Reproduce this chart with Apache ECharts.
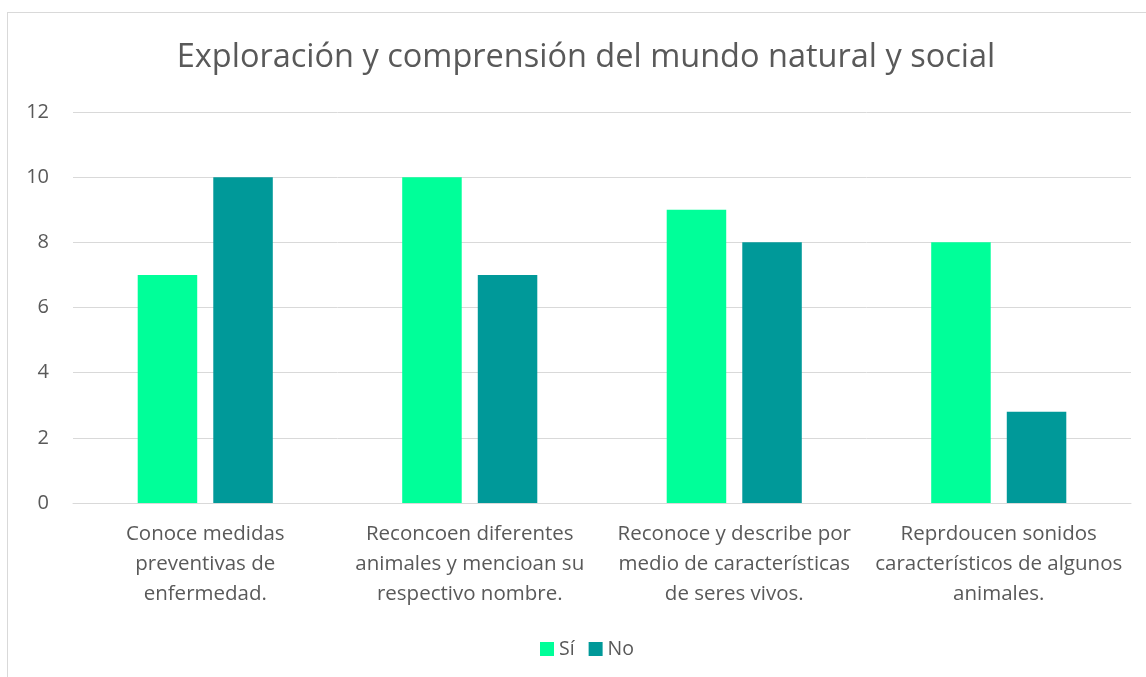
<!DOCTYPE html>
<html lang="es">
<head>
    <meta charset="UTF-8">
    <title>Exploración y comprensión del mundo natural y social</title>
    <script src="https://cdn.jsdelivr.net/npm/echarts@6/dist/echarts.min.js" type="text/javascript"></script>
    <style>
        html, body { margin: 0; padding: 0; background: #fff; overflow: hidden; }
        #main {
            position: absolute; left: 7px; top: 12px;
            width: 1156px; height: 680px;
            border-left: 1px solid #d9d9d9; border-top: 1px solid #d9d9d9;
        }
    </style>
</head>
<body>
<div id="main"></div>
<script type="text/javascript">
    // datos del grafico
    var categorias = [
        'Conoce medidas\npreventivas de\nenfermedad.',
        'Reconcoen diferentes\nanimales y mencioan su\nrespectivo nombre.',
        'Reconoce y describe por\nmedio de características\nde seres vivos.',
        'Reprdoucen sonidos\ncaracterísticos de algunos\nanimales.'
    ];
    var valoresSi = [7, 10, 9, 8];
    var valoresNo = [10, 7, 8, 2.8];
    var series = ['Sí', 'No'];

    var myChart = echarts.init(document.getElementById('main'));
    var fuente = 'Open Sans';
    myChart.setOption({
        animation: false,
        color: ['#00ff99', '#009999'],
        title: {
            text: 'Exploración y comprensión del mundo natural y social',
            left: 'center',
            top: 23,
            textStyle: { fontFamily: fuente, fontSize: 32.5, fontWeight: 'normal', color: '#595959' }
        },
        legend: {
            data: series,
            left: 527,
            top: 621,
            itemWidth: 14,
            itemHeight: 14,
            itemGap: 14,
            icon: 'rect',
            textStyle: { fontFamily: fuente, fontSize: 19.5, color: '#595959' }
        },
        grid: { left: 65, right: 33, top: 99, height: 391 },
        xAxis: {
            type: 'category',
            data: categorias,
            axisLine: { lineStyle: { color: '#d9d9d9', width: 1 } },
            axisTick: { show: false },
            axisLabel: { fontFamily: fuente, fontSize: 20.5, color: '#595959', lineHeight: 30, margin: 16, interval: 0 }
        },
        yAxis: {
            type: 'value',
            min: 0,
            max: 12,
            interval: 2,
            axisLine: { show: false },
            axisTick: { show: false },
            splitLine: { lineStyle: { color: '#d9d9d9', width: 1 } },
            axisLabel: { fontFamily: fuente, fontSize: 20, color: '#595959', margin: 24 }
        },
        series: [
            { name: series[0], type: 'bar', data: valoresSi, barWidth: '22.5%', barGap: '27%' },
            { name: series[1], type: 'bar', data: valoresNo, barWidth: '22.5%', barGap: '27%' }
        ]
    });
</script>
</body>
</html>
